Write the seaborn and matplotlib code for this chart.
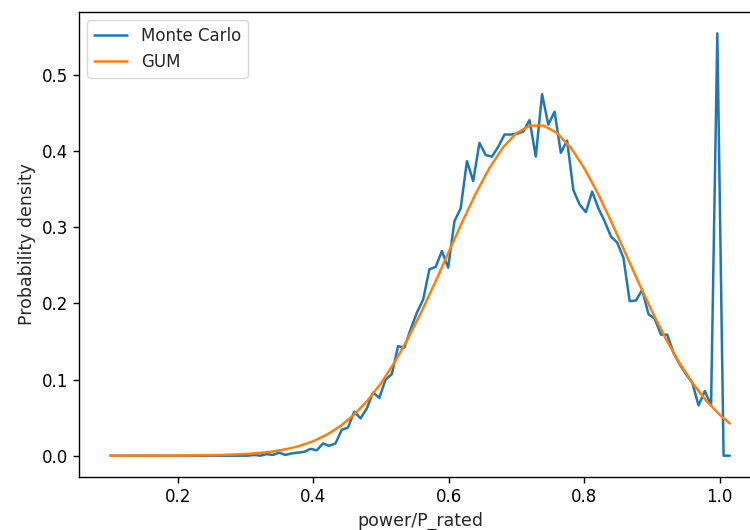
import numpy as np
import matplotlib
matplotlib.use("Agg")
import matplotlib.pyplot as plt
import seaborn as sns

# bin grid of the Monte Carlo histogram (100 bins between 0.1 and 1.015)
mc_x = np.linspace(0.1, 1.015, 100)
mc_density = [
    0.0, 0.0, 0.0, 0.0, 0.0, 0.0, 0.0, 0.0, 0.0, 0.0,
    0.0, 0.0, 0.0, 0.0, 0.0, 0.0, 0.0, 0.0, 0.0, 0.0,
    0.0, 0.0, 0.0, 0.001, 0.0, 0.002, 0.001, 0.004, 0.001, 0.003,
    0.004, 0.005, 0.009, 0.007, 0.016, 0.013, 0.016, 0.034, 0.037, 0.058,
    0.049, 0.062, 0.083, 0.076, 0.100, 0.107, 0.144, 0.142, 0.166, 0.188,
    0.205, 0.245, 0.248, 0.269, 0.247, 0.308, 0.325, 0.387, 0.361, 0.411,
    0.395, 0.393, 0.406, 0.422, 0.422, 0.423, 0.426, 0.441, 0.393, 0.475,
    0.435, 0.452, 0.398, 0.414, 0.349, 0.330, 0.320, 0.347, 0.325, 0.308,
    0.288, 0.280, 0.260, 0.203, 0.204, 0.218, 0.186, 0.180, 0.159, 0.159,
    0.135, 0.120, 0.107, 0.096, 0.066, 0.085, 0.066, 0.555, 0.0, 0.0,
]

# GUM curve
gum_x = [0.10, 0.20, 0.26, 0.30, 0.32, 0.34, 0.36, 0.38, 0.40, 0.42,
         0.44, 0.46, 0.48, 0.50, 0.52, 0.54, 0.56, 0.58, 0.60, 0.62,
         0.64, 0.66, 0.68, 0.70, 0.72, 0.74, 0.76, 0.78, 0.80, 0.82,
         0.84, 0.86, 0.88, 0.90, 0.92, 0.94, 0.96, 0.98, 1.00, 1.015]
gum_density = [0.0, 0.0001, 0.0008, 0.0022, 0.0035, 0.0055, 0.0086, 0.0129, 0.0191, 0.0276,
               0.0389, 0.0537, 0.0724, 0.0953, 0.1227, 0.1544, 0.1898, 0.2281, 0.2678, 0.3074,
               0.3448, 0.3779, 0.4049, 0.4239, 0.4337, 0.4337, 0.4239, 0.4049, 0.3779, 0.3448,
               0.3074, 0.2678, 0.2281, 0.1898, 0.1544, 0.1227, 0.0953, 0.0724, 0.0537, 0.0423]

sns.set_style("ticks")
plt.rcParams.update({
    "font.family": ["DejaVu Sans"],
    "font.size": 12,
    "axes.linewidth": 1.0,
    "xtick.major.size": 4.2,
    "ytick.major.size": 4.2,
    "xtick.major.width": 1.0,
    "ytick.major.width": 1.0,
    "axes.edgecolor": "black",
})

fig = plt.figure(figsize=(7.5, 5.3), dpi=100)
ax = fig.add_axes([79 / 750, 53 / 530, 682 / 750, 465 / 530])

blue, orange = sns.color_palette("tab10")[:2]
sns.lineplot(x=mc_x, y=mc_density, ax=ax, color=blue, linewidth=1.8, label="Monte Carlo")
sns.lineplot(x=gum_x, y=gum_density, ax=ax, color=orange, linewidth=1.8, label="GUM")

ax.set_xlim(0.054, 1.061)
ax.set_ylim(-0.028, 0.583)
ax.set_xticks([0.2, 0.4, 0.6, 0.8, 1.0])
ax.set_yticks([0.0, 0.1, 0.2, 0.3, 0.4, 0.5])
ax.tick_params(labelsize=12, colors="black")
ax.set_xlabel("power/P_rated", fontsize=12.5)
ax.set_ylabel("Probability density", fontsize=12.5)
ax.legend(loc="upper left", fontsize=12, frameon=True)

fig.savefig("out.png", dpi=100)
